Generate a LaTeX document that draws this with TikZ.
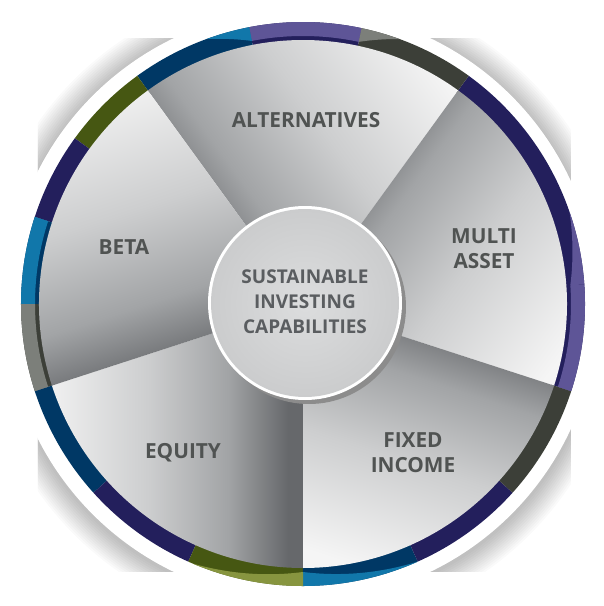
\documentclass[tikz,border=0pt]{standalone}
\usepackage{fontspec}
\setmainfont{Open Sans}
\definecolor{cIndigo}{HTML}{231F5C}
\definecolor{cNavy}{HTML}{003865}
\definecolor{cDkGray}{HTML}{3C3F38}
\definecolor{cOlive}{HTML}{465712}
\definecolor{cPurple}{HTML}{5E5597}
\definecolor{cLtBlue}{HTML}{1177AA}
\definecolor{cGray}{HTML}{7C7F7A}
\definecolor{cLtOlive}{HTML}{87953F}
\definecolor{wDark}{HTML}{66686B}
\definecolor{wMid}{HTML}{A2A4A6}
\definecolor{wSoft}{HTML}{CDCECF}
\definecolor{wLight}{HTML}{F5F5F5}
\definecolor{txt}{HTML}{505352}
\definecolor{ctxt}{HTML}{5A5D60}
\definecolor{cFillIn}{HTML}{DCDDDE}
\definecolor{cFillOut}{HTML}{CBCCCD}
\pgfdeclareverticalshading{wedgeshade}{100bp}{color(0bp)=(wLight); color(22bp)=(wLight); color(44bp)=(wSoft); color(60bp)=(wMid); color(72bp)=(wDark); color(100bp)=(wDark)}
\newcommand\ringseg[3]{\fill[#3] (#1:282pt) arc[start angle=#1,end angle=#2,radius=282pt] -- (#2:261pt) arc[start angle=#2,end angle=#1,radius=261pt] -- cycle;}
\newcommand\ringband[3]{\fill[#3] (#1:282pt) arc[start angle=#1,end angle=#2,radius=282pt] -- (#2:268pt) arc[start angle=#2,end angle=#1,radius=268pt] -- cycle;}
\newcommand\taperband[3]{\fill[#3] plot[domain=0:1,samples=30] ({(#1)+((#2)-(#1))*\x}:{268+14*\x}) arc[start angle=#2,end angle=#1,radius=282pt] -- cycle;}
\tikzset{
  lbl/.style={text=txt, font=\bfseries\fontsize{20.8}{25}\selectfont, align=center, inner sep=0pt},
  clbl/.style={text=ctxt, font=\bfseries\fontsize{19}{25}\selectfont, align=center, inner sep=0pt},
  wedge/.style={shading=wedgeshade, shading angle=#1}
}
\begin{document}
\begin{tikzpicture}[x=1pt,y=1pt]
\useasboundingbox (-303,-302) rectangle (301,304);
\fill[white] (-303,-302) rectangle (301,304);
% drop shadow of the white disk
\begin{scope}
  \clip (-265,266) rectangle (268,-267);
  \foreach \i in {1,...,13}{
    \fill[black, opacity=0.02] (-1,-3) circle ({296+2*\i});
  }
\end{scope}
\fill[white] (-1,-1) circle (296pt);
% coloured ring, inner dark segments
\ringseg{-18}{54}{cIndigo}
\ringseg{54}{78}{cDkGray}
\ringseg{78}{101}{cIndigo}
\ringseg{101}{126}{cNavy}
\ringseg{126}{144}{cOlive}
\ringseg{144}{162}{cIndigo}
\ringseg{162}{180}{cNavy}
\ringseg{180}{198}{cDkGray}
\ringseg{198}{222}{cNavy}
\ringseg{222}{246}{cIndigo}
\ringseg{246}{270}{cOlive}
\ringseg{270}{294}{cNavy}
\ringseg{294}{318}{cIndigo}
\ringseg{318}{342}{cDkGray}
% lighter outer bands
\ringband{78}{101}{cPurple}
\taperband{78}{70}{cGray}
\taperband{101}{110}{cLtBlue}
\ringband{-18}{4}{cPurple}
\taperband{4}{19}{cPurple}
\taperband{-90}{-66}{cLtBlue}
\taperband{-90}{-113}{cLtOlive}
\ringband{162}{180}{cLtBlue}
\ringband{180}{198}{cGray}
% wedges: dark along the counter-clockwise edge
\foreach \a in {54, -18, -90, -162, 126}{
  \shade[wedge={\a+72}] (0,0) -- (\a:264pt) arc[start angle=\a, end angle=\a+72, radius=264pt] -- cycle;
}
% centre disc
\fill[black!45] (6,-3) circle (97pt);
\fill[white] (2,1) circle (97pt);
\shade[inner color=cFillIn, outer color=cFillOut] (2,1) circle (94pt);
% labels
\node[clbl] (centre) at (2,2) {SUSTAINABLE\\INVESTING\\CAPABILITIES};
\node[lbl] (alt) at (3,184) {ALTERNATIVES};
\node[lbl] (multi) at (181,55) {MULTI\\ASSET};
\node[lbl] (beta) at (-179,57) {BETA};
\node[lbl] (equity) at (-120,-149) {EQUITY};
\node[lbl] (fixed) at (110,-149) {FIXED\\INCOME};
\end{tikzpicture}
\end{document}
